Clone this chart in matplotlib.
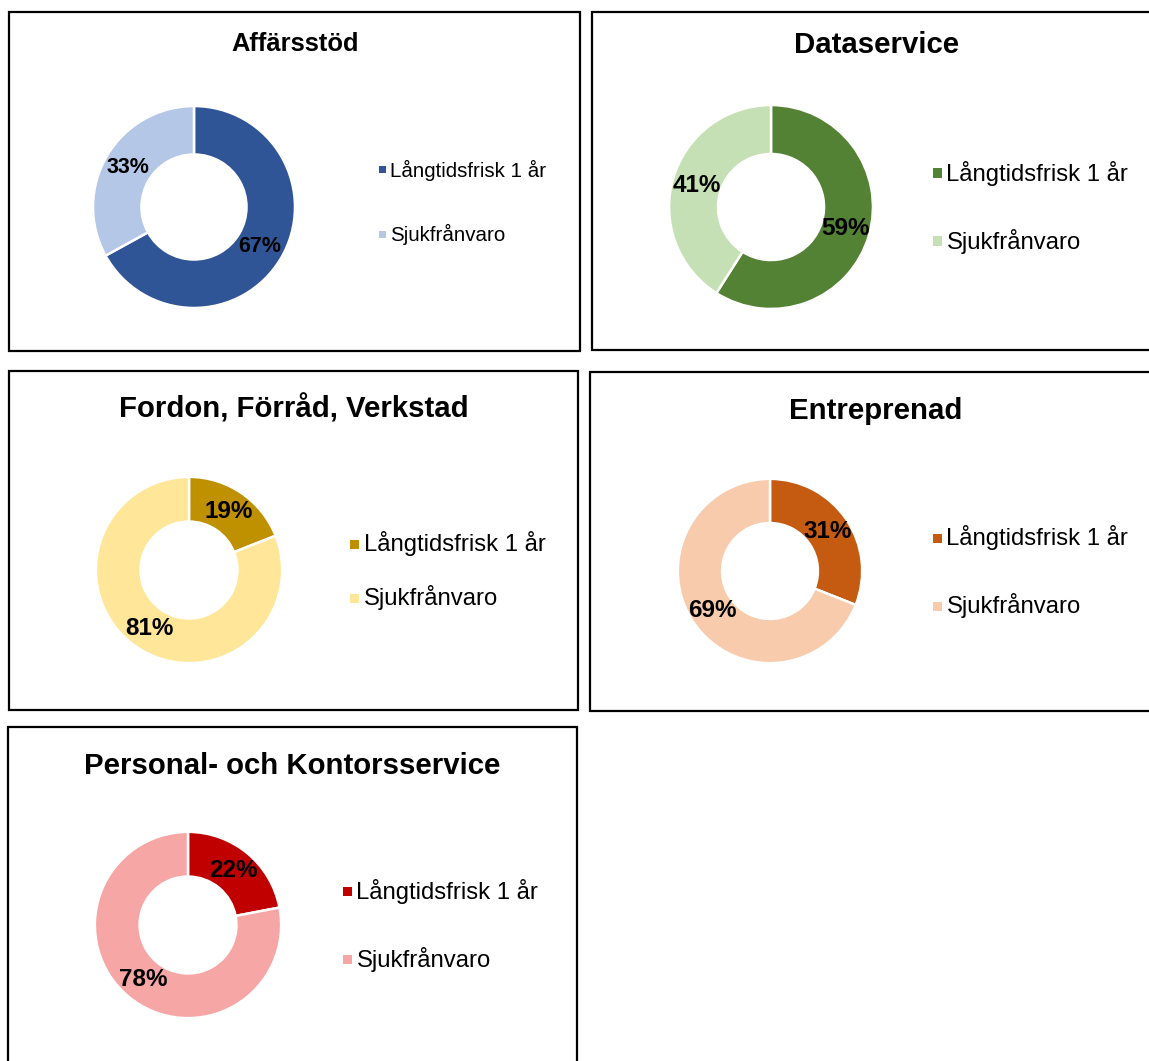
import matplotlib
matplotlib.use('Agg')
import matplotlib.pyplot as plt
import matplotlib.patches as mpatches

plt.rcParams['font.family'] = ['Liberation Sans', 'DejaVu Sans']

######## DATA ############
titles = ['Affärsstöd', 'Dataservice', 'Fordon, Förråd, Verkstad',
          'Entreprenad', 'Personal- och Kontorsservice']
seriesLabels = ['Långtidsfrisk 1 år', 'Sjukfrånvaro']
healthy = [67, 59, 19, 31, 22]
sick = [33, 41, 81, 69, 78]
darkCols = ['#2F5597', '#548235', '#BF9000', '#C55A11', '#C00000']
lightCols = ['#B4C7E7', '#C5E0B4', '#FFE699', '#F8CBAD', '#F7A6A6']
##############################

######## LAYOUT (pixels) ############
W, H = 1149, 1061
boxes = [(9, 12, 580, 351), (592, 12, 1155, 350), (9, 371, 578, 710),
         (590, 372, 1155, 711), (8, 727, 577, 1066)]
donuts = [(194, 207, 101), (771, 207, 102), (189, 570, 93),
          (770, 571, 92), (188, 925, 93)]
titlePos = [(295, 44), (877, 45), (294, 409), (876, 411), (292, 766)]
titleSize = [18.4, 21.2, 21.2, 21.2, 21.2]
legX = [382, 937, 354, 937, 347]
legY = [(170, 234), (173, 241), (544, 598), (538, 606), (891, 959)]
legSize = [14.8, 17.2, 17.2, 17.2, 17.2]
pctSize = [15.5, 17.5, 17.5, 17.5, 17.5]
ringWidth = 0.48

def fx(x):
    return x / W

def fy(y):
    return 1 - y / H

fig = plt.figure(figsize=(W / 100, H / 100), dpi=100)

for i in range(len(titles)):
    # panel frame
    x0, y0, x1, y1 = boxes[i]
    fig.add_artist(mpatches.Rectangle((fx(x0), fy(y1)), fx(x1 - x0), (y1 - y0) / H,
                                      transform=fig.transFigure, facecolor='white',
                                      edgecolor='black', linewidth=1.6, zorder=0))

    # donut
    cx, cy, r = donuts[i]
    ax = fig.add_axes([fx(cx - r - 2), fy(cy + r + 2), (2 * r + 4) / W, (2 * r + 4) / H])
    vals = [healthy[i], sick[i]]
    wedges, texts, autotexts = ax.pie(vals, colors=[darkCols[i], lightCols[i]],
                                      startangle=90, counterclock=False, radius=1,
                                      autopct='%1.0f%%', pctdistance=1 - ringWidth / 2,
                                      wedgeprops=dict(width=ringWidth, edgecolor='white', linewidth=1.8),
                                      textprops=dict(fontsize=pctSize[i], fontweight='bold', color='black'))
    ax.set_xlim(-1.02, 1.02)
    ax.set_ylim(-1.02, 1.02)
    ax.axis('off')

    # title
    tx, ty = titlePos[i]
    fig.text(fx(tx), fy(ty), titles[i], fontsize=titleSize[i], fontweight='bold',
             ha='center', va='center')

    # legend
    ms = 7 if i == 0 else 9
    for j in range(2):
        ly = legY[i][j]
        fig.add_artist(mpatches.Rectangle((fx(legX[i] - ms / 2), fy(ly + ms / 2)), ms / W, ms / H,
                                          transform=fig.transFigure,
                                          facecolor=[darkCols[i], lightCols[i]][j], edgecolor='none'))
        fig.text(fx(legX[i] + ms / 2 + 5), fy(ly), seriesLabels[j], fontsize=legSize[i],
                 ha='left', va='center')

plt.savefig('out.png', dpi=100)
